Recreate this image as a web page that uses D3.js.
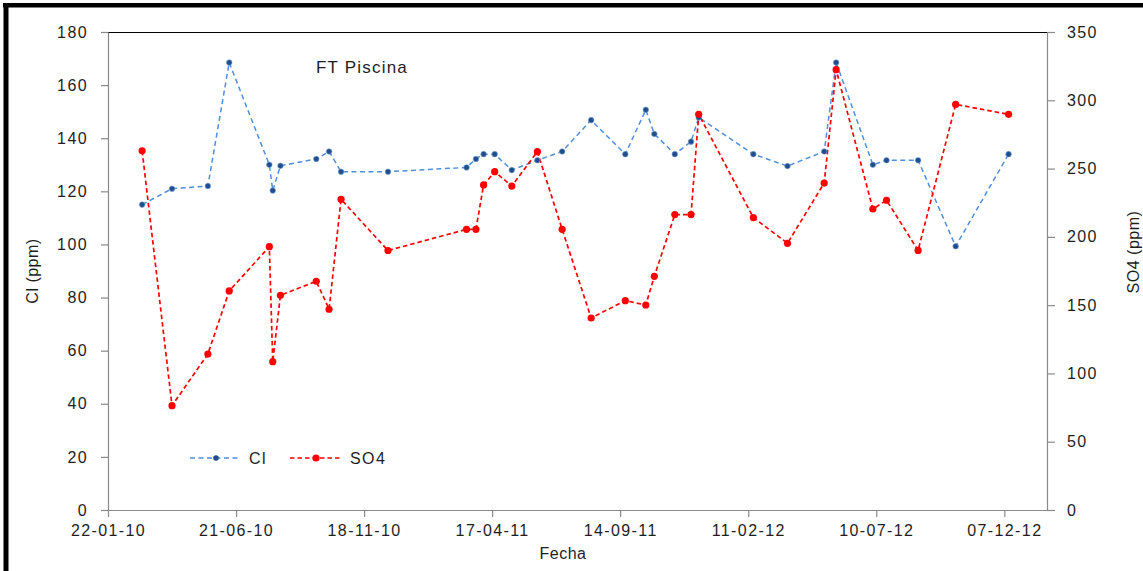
<!DOCTYPE html>
<html>
<head>
<meta charset="utf-8">
<script src="https://cdn.jsdelivr.net/npm/d3@7"></script>
<style>
  html, body { margin: 0; padding: 0; background: #fff; }
  svg { display: block; }
  text { font-family: "Liberation Sans", Arial, sans-serif; fill: #1e1e1e; }
</style>
</head>
<body>
<svg id="chart" width="1143" height="571"></svg>
<script>
// ---- data ----
const dates = ["2010-03-03","2010-04-07","2010-05-19","2010-06-13","2010-07-30","2010-08-03","2010-08-12",
  "2010-09-23","2010-10-08","2010-10-22","2010-12-16","2011-03-18","2011-03-29","2011-04-07","2011-04-20",
  "2011-05-10","2011-06-09","2011-07-08","2011-08-11","2011-09-20","2011-10-14","2011-10-24","2011-11-17",
  "2011-12-06","2011-12-15","2012-02-17","2012-03-28","2012-05-10","2012-05-24","2012-07-06","2012-07-22",
  "2012-08-28","2012-10-11","2012-12-12"];
const clValues = [115, 121, 122, 168.5, 130, 120.3, 129.6, 132.2, 135, 127.4, 127.4, 129, 132.2, 134, 134,
  128, 131.7, 135, 146.8, 134, 150.7, 141.6, 134, 138.7, 147.8, 134, 129.5, 135, 168.5, 130, 131.7,
  131.7, 99.3, 134];
const so4Values = [263, 76.4, 114.2, 160.4, 192.8, 108.6, 157.2, 167.5, 147, 227.5, 190, 205.5, 205.5, 238,
  247.7, 237.2, 262.4, 205.5, 140.6, 153.3, 150.1, 171.1, 216.3, 216.3, 289.7, 214.1, 195.3, 239.4,
  322.4, 220.4, 226.8, 190.1, 297, 289.7];
const xTickLabels = ["22-01-10","21-06-10","18-11-10","17-04-11","14-09-11","11-02-12","10-07-12","07-12-12"];
const leftTicks = [0, 20, 40, 60, 80, 100, 120, 140, 160, 180];
const rightTicks = [0, 50, 100, 150, 200, 250, 300, 350];
const seriesNames = ["Cl", "SO4"];
const titleText = "FT Piscina";

// ---- layout ----
const parse = d3.timeParse("%Y-%m-%d");
const svg = d3.select("#chart");
const L = 108, R = 1047, T = 32, B = 510;
const xStart = parse("2010-01-22");
const x = d3.scaleTime().domain([xStart, d3.timeDay.offset(xStart, 1100)]).range([L, R]);
const yL = d3.scaleLinear().domain([0, 180]).range([B, T]);
const yR = d3.scaleLinear().domain([0, 350]).range([B, T]);
const xTickDates = xTickLabels.map(s => d3.timeParse("%d-%m-%y")(s));

const axisColor = "#8a8a8a";
const blueLine = "#4F8FDB", blueMark = "#1F4E8C", red = "#FF0000";

// outer frame (top and left heavy lines)
svg.append("rect").attr("x", 3).attr("y", 3).attr("width", 1140).attr("height", 4.5).attr("fill", "#000");
svg.append("rect").attr("x", 3.5).attr("y", 3).attr("width", 5).attr("height", 568).attr("fill", "#000");

// plot top line
svg.append("line").attr("x1", L).attr("x2", R).attr("y1", T + 0.5).attr("y2", T + 0.5)
  .attr("stroke", "#000").attr("stroke-width", 1.2);

function styleAxis(g) {
  g.selectAll("path, line").attr("stroke", axisColor).attr("stroke-width", 1.2);
  g.selectAll("text").style("font-size", "16px").style("letter-spacing", "1.4px").attr("fill", "#1e1e1e");
}

svg.append("g").attr("transform", `translate(0,${B})`)
  .call(d3.axisBottom(x).tickValues(xTickDates).tickFormat((d, i) => xTickLabels[i]).tickSizeInner(7).tickSizeOuter(0).tickPadding(8))
  .call(styleAxis);
svg.append("g").attr("transform", `translate(${L},0)`)
  .call(d3.axisLeft(yL).tickValues(leftTicks).tickFormat(d3.format("d")).tickSizeInner(7).tickSizeOuter(0).tickPadding(13))
  .call(styleAxis);
svg.append("g").attr("transform", `translate(${R},0)`)
  .call(d3.axisRight(yR).tickValues(rightTicks).tickFormat(d3.format("d")).tickSizeInner(8).tickSizeOuter(0).tickPadding(12))
  .call(styleAxis);

// axis titles
svg.append("text").attr("x", 563).attr("y", 559).attr("text-anchor", "middle")
  .style("font-size", "16px").style("letter-spacing", "0.5px").text("Fecha");
svg.append("text").attr("transform", "translate(38,271) rotate(-90)").attr("text-anchor", "middle")
  .style("font-size", "16px").style("letter-spacing", "0.5px").text("Cl (ppm)");
svg.append("text").attr("transform", "translate(1139,252) rotate(-90)").attr("text-anchor", "middle")
  .style("font-size", "16px").style("letter-spacing", "0.5px").text("SO4 (ppm)");

// chart title
svg.append("text").attr("x", 316).attr("y", 73).style("font-size", "17px").style("letter-spacing", "1.2px").text(titleText);

// series
const clData = dates.map((d, i) => ({ date: parse(d), v: clValues[i] }));
const so4Data = dates.map((d, i) => ({ date: parse(d), v: so4Values[i] }));

svg.append("path").datum(clData)
  .attr("d", d3.line().x(d => x(d.date)).y(d => yL(d.v)))
  .attr("fill", "none").attr("stroke", blueLine).attr("stroke-width", 1.5).attr("stroke-dasharray", "5,3.5");
svg.append("path").datum(so4Data)
  .attr("d", d3.line().x(d => x(d.date)).y(d => yR(d.v)))
  .attr("fill", "none").attr("stroke", red).attr("stroke-width", 1.7).attr("stroke-dasharray", "4.5,3");

svg.append("g").selectAll("circle").data(clData).join("circle")
  .attr("cx", d => x(d.date)).attr("cy", d => yL(d.v)).attr("r", 2.8)
  .attr("fill", blueMark).attr("stroke", "#7fa6d6").attr("stroke-width", 0.6);
svg.append("g").selectAll("circle").data(so4Data).join("circle")
  .attr("cx", d => x(d.date)).attr("cy", d => yR(d.v)).attr("r", 3.6)
  .attr("fill", red);

// legend
const legendItems = [
  { name: seriesNames[0], x0: 190, color: blueLine, mark: blueMark, r: 2.8, dash: "5,3.5", tx: 249 },
  { name: seriesNames[1], x0: 290, color: red, mark: red, r: 3.6, dash: "4.5,3", tx: 350 }
];
const ly = 458;
legendItems.forEach(it => {
  svg.append("line").attr("x1", it.x0).attr("x2", it.x0 + 50).attr("y1", ly).attr("y2", ly)
    .attr("stroke", it.color).attr("stroke-width", 1.6).attr("stroke-dasharray", it.dash);
  svg.append("circle").attr("cx", it.x0 + 26).attr("cy", ly).attr("r", it.r).attr("fill", it.mark);
  svg.append("text").attr("x", it.tx).attr("y", ly + 6).style("font-size", "16px").style("letter-spacing", "1.4px").text(it.name);
});
</script>
</body>
</html>
